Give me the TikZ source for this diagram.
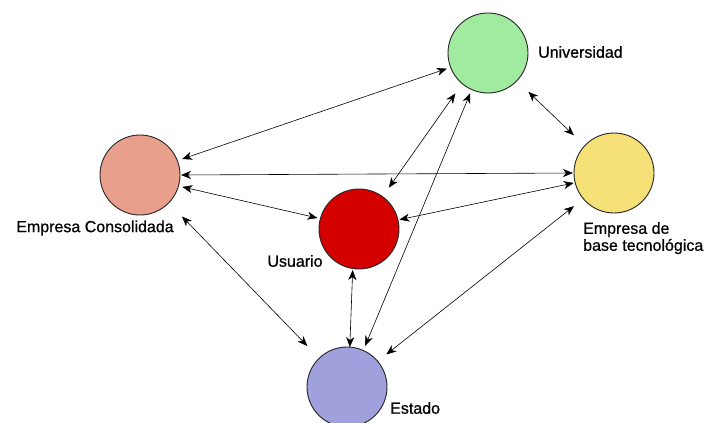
\documentclass[tikz,border=0pt]{standalone}
\usepackage{fontspec}
\setmainfont{Liberation Sans}
\newfontfamily\lblfont[FakeBold=0.7]{Liberation Sans}
\usepackage{xcolor}
\usetikzlibrary{arrows.meta}
\definecolor{uniGreen}{HTML}{A0EBA0}
\definecolor{ecSalmon}{HTML}{E8A08C}
\definecolor{usRed}{HTML}{D40000}
\definecolor{ebtYellow}{HTML}{F5E178}
\definecolor{estLavender}{HTML}{A0A0DC}

\begin{document}
\begin{tikzpicture}[x=1pt,y=-1pt,
  actor/.style={circle,draw=black!85,line width=0.9pt,minimum size=80pt,inner sep=0pt,outer sep=0pt},
  lnk/.style={{Stealth[length=10pt,width=8pt,inset=3pt]}-{Stealth[length=10pt,width=8pt,inset=3pt]},line width=0.6pt},
  lbl/.style={font=\lblfont\fontsize{16}{17}\selectfont,align=left,inner sep=0pt}]
\useasboundingbox (0,0) rectangle (710,423);
\node[actor,fill=uniGreen] (univ) at (488,53) {};
\node[actor,fill=ecSalmon] (ec) at (140,175) {};
\node[actor,fill=usRed] (us) at (359,229) {};
\node[actor,fill=ebtYellow] (ebt) at (614,173) {};
\node[actor,fill=estLavender] (est) at (347,387) {};

\node[lbl,anchor=west] (univlbl) at (538,52) {Universidad};
\node[lbl] (eclbl) at (95,228) {Empresa Consolidada};
\node[lbl] (uslbl) at (295,261) {Usuario};
\node[lbl,anchor=north west] (ebtlbl) at (583,222) {Empresa de\\base tecnológica};
\node[lbl,anchor=west] (estlbl) at (390,408) {Estado};

\foreach \A/\B/\S/\T in {ec.21/univ.201/5/4, ec.0/ebt.180/1/1, ec.-16/us.165/4/3,
  ec.-44/est.134/19/17, univ.230/us.54/12/11, univ.246/est.66/4/5,
  univ.-44/ebt.137/16/15, us.13/ebt.194/1.5/1.5, us.261/est.86/1.5/0,
  ebt.220/est.40/12/11}
{\draw[lnk,shorten <=\S pt,shorten >=\T pt] (\A) -- (\B);}
\end{tikzpicture}
\end{document}
